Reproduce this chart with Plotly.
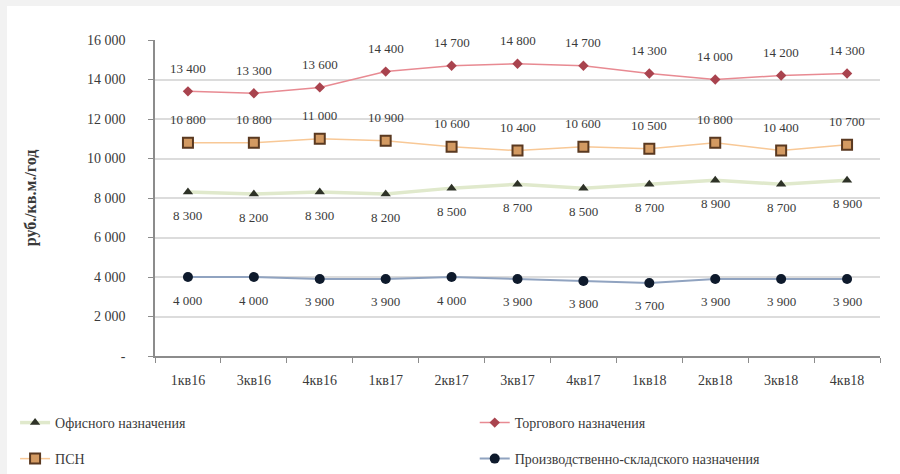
import plotly.graph_objects as go

# Quarterly rental rates, rub. per sq.m per year
quarters = ["1кв16", "3кв16", "4кв16", "1кв17", "2кв17", "3кв17",
            "4кв17", "1кв18", "2кв18", "3кв18", "4кв18"]
office = [8300, 8200, 8300, 8200, 8500, 8700, 8500, 8700, 8900, 8700, 8900]
retail = [13400, 13300, 13600, 14400, 14700, 14800, 14700, 14300, 14000, 14200, 14300]
psn = [10800, 10800, 11000, 10900, 10600, 10400, 10600, 10500, 10800, 10400, 10700]
industrial = [4000, 4000, 3900, 3900, 4000, 3900, 3800, 3700, 3900, 3900, 3900]

y_ticks = [0, 2000, 4000, 6000, 8000, 10000, 12000, 14000, 16000]
y_tick_text = ["-", "2 000", "4 000", "6 000", "8 000", "10 000", "12 000", "14 000", "16 000"]

FONT = "Liberation Serif"
TXT = "#3a3a3a"


def fmt(v):
    return f"{v:,}".replace(",", " ")


series = [
    # name, values, line colour, line width, marker symbol, size, fill, edge, legend, label side
    ("Офисного назначения", office, "#e0e9cc", 3.5, "triangle-up", 9, "#2e3227", "#2e3227", "legend", -1),
    ("Торгового назначения", retail, "#e88a92", 1.5, "diamond", 8, "#a9434e", "#a9434e", "legend2", 1),
    ("ПСН", psn, "#f8c896", 1.5, "square", 10, "#d39a62", "#5a3920", "legend3", 1),
    ("Производственно-складского назначения", industrial, "#90a3c0", 2, "circle", 10, "#0e1a2c", "#0e1a2c", "legend4", -1),
]

fig = go.Figure()
annotations = []
for name, vals, lc, lw, sym, size, fill, edge, leg, side in series:
    fig.add_trace(go.Scatter(
        x=quarters, y=vals, name=name, mode="lines+markers",
        line=dict(color=lc, width=lw),
        marker=dict(symbol=sym, size=size, color=fill,
                    line=dict(color=edge, width=2 if sym == "square" else 0)),
        legend=leg, showlegend=True,
    ))
    for q, v in zip(quarters, vals):
        annotations.append(dict(
            x=q, y=v, text=fmt(v), showarrow=False, yshift=23 * side,
            font=dict(family=FONT, size=13, color=TXT),
        ))

legend_common = dict(font=dict(family=FONT, size=14, color=TXT),
                     bgcolor="rgba(0,0,0,0)", xanchor="left", yanchor="middle",
                     itemwidth=30)

fig.update_layout(
    width=900, height=474,
    showlegend=True,
    margin=dict(l=155, r=20, t=40, b=118, autoexpand=False),
    paper_bgcolor="white", plot_bgcolor="white",
    font=dict(family=FONT, size=14, color=TXT),
    annotations=annotations,
    legend=dict(x=-0.193, y=-0.212, **legend_common),
    legend2=dict(x=0.441, y=-0.212, **legend_common),
    legend3=dict(x=-0.193, y=-0.326, **legend_common),
    legend4=dict(x=0.441, y=-0.326, **legend_common),
    xaxis=dict(
        type="category", range=[-0.5, 10.5],
        showline=True, linecolor="#8c8c8c", linewidth=1.5,
        ticks="outside", tickson="boundaries", ticklen=5, tickcolor="#8c8c8c",
        showgrid=False, tickfont=dict(family=FONT, size=14, color=TXT),
        ticklabelstandoff=10,
    ),
    yaxis=dict(
        range=[0, 16000], tickvals=y_ticks, ticktext=y_tick_text,
        showline=True, linecolor="#8c8c8c", linewidth=1.5,
        ticks="outside", ticklen=5, tickcolor="#8c8c8c",
        gridcolor="#dcdcdc", gridwidth=1.5, zeroline=False,
        tickfont=dict(family=FONT, size=14, color=TXT),
        ticklabelstandoff=20,
        title=dict(text="<b>руб./кв.м./год</b>", standoff=46,
                   font=dict(family=FONT, size=16, color=TXT)),
    ),
    shapes=[
        dict(type="rect", xref="paper", yref="paper", layer="below",
             x0=-155 / 725, x1=(900 - 155) / 725 + 0.5, y0=(356 - 6) / 316, y1=(356 + 10) / 316,
             fillcolor="#f2f2f2", line=dict(width=0)),
        dict(type="rect", xref="paper", yref="paper", layer="below",
             x0=-155 / 725, x1=(7 - 155) / 725, y0=-1, y1=(356 + 10) / 316,
             fillcolor="#f2f2f2", line=dict(width=0)),
    ],
)

fig.write_html("out.html")
